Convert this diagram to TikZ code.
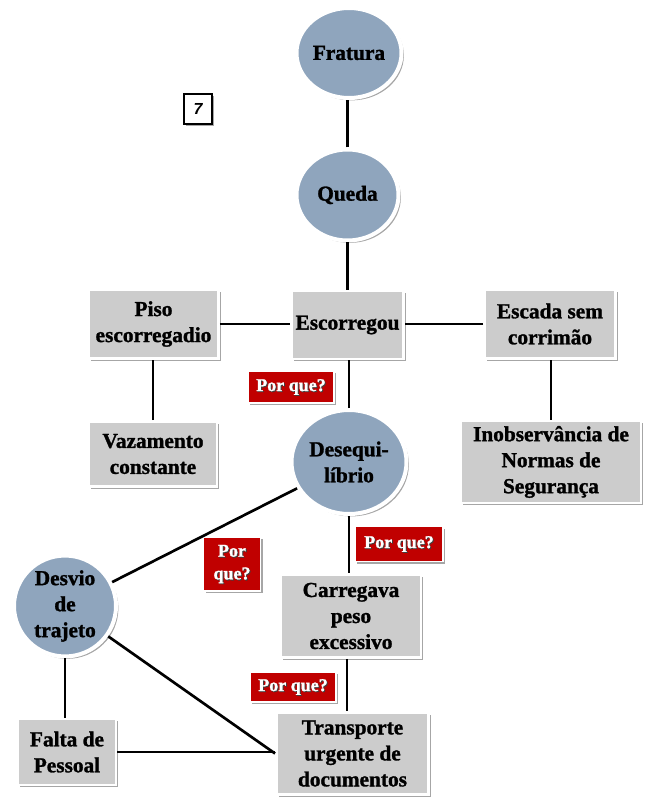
\documentclass[tikz,border=0pt]{standalone}
\usepackage{fontspec}
\setmainfont{Liberation Serif}[BoldFeatures={FakeBold=1.3}]
\newfontfamily\numfont{Liberation Sans}
\usetikzlibrary{shapes.geometric,shadows}

\definecolor{boxgray}{HTML}{CCCCCC}
\definecolor{circblue}{HTML}{8FA5BD}
\definecolor{askred}{HTML}{C00000}

\tikzset{
  softshadow/.style={drop shadow={shadow xshift=1.8pt,shadow yshift=-1.8pt,opacity=0.35,fill=black}},
  causebox/.style={rectangle,fill=boxgray,draw=white,line width=2.2pt,softshadow,
    align=center,inner sep=0pt,font=\fontsize{16}{19.5}\selectfont\bfseries},
  eventcirc/.style={ellipse,fill=circblue,draw=white,line width=3pt,softshadow,
    align=center,inner sep=0pt,font=\fontsize{16}{19.5}\selectfont\bfseries},
  askbox/.style={rectangle,fill=askred,draw=white,line width=1.2pt,softshadow,
    align=center,inner sep=0pt},
  asktext/.style={align=center,inner sep=0pt,text=white,font=\fontsize{13.5}{17}\selectfont\bfseries},
  askshade/.style={asktext,text=black!75},
  link/.style={draw=black,line width=2pt},
}

\begin{document}
\begin{tikzpicture}[x=0.75pt,y=-0.75pt]
\useasboundingbox (0,0) rectangle (651,798);

% event chain (circles)
\node[eventcirc,minimum width=78.75pt,minimum height=67.5pt] (fratura) at (349,53) {Fratura};
\node[eventcirc,minimum width=76.5pt,minimum height=68.25pt] (queda) at (347.5,195) {Queda};
\node[eventcirc,minimum width=86.25pt,minimum height=78pt] (deseq) at (349,462) {Desequi-\\líbrio};
\node[eventcirc,minimum width=76.5pt,minimum height=75pt] (desvio) at (65,606) {Desvio\\de\\trajeto};

% causes (grey boxes)
\node[causebox,minimum width=84pt,minimum height=51pt] (escorregou) at (347.5,325) {Escorregou};
\node[causebox,minimum width=97.5pt,minimum height=51.75pt] (piso) at (153.5,324) {Piso\\escorregadio};
\node[causebox,minimum width=98.25pt,minimum height=51.75pt] (escada) at (550,324) {Escada sem\\corrimão};
\node[causebox,minimum width=96pt,minimum height=48.75pt] (vazamento) at (153,454) {Vazamento\\constante};
\node[causebox,minimum width=135pt,minimum height=61.5pt] (inobs) at (551,462) {Inobservância de\\Normas de\\Segurança};
\node[causebox,minimum width=105pt,minimum height=62.25pt] (carregava) at (351,616) {Carregava\\peso\\excessivo};
\node[causebox,minimum width=114pt,minimum height=61.5pt] (transporte) at (352.5,753.5) {Transporte\\urgente de\\documentos};
\node[causebox,minimum width=73.5pt,minimum height=49.5pt] (falta) at (67,752) {Falta de\\Pessoal};

% page marker
\node[rectangle,draw=black,fill=white,line width=1.5pt,softshadow,minimum width=21pt,minimum height=22.5pt,
  inner sep=0pt,font=\numfont\bfseries\itshape\fontsize{12}{14}\selectfont] (seven) at (198,109) {7};

% "Por que?" tags: red box, dark text shade, white text
\node[askbox,minimum width=64.5pt,minimum height=24pt] (ask1) at (291,387) {};
\node[askshade] (ask1s) at ([xshift=0.7pt,yshift=-0.7pt]ask1.center) {Por que?};
\node[asktext] (ask1t) at (ask1.center) {Por que?};

\node[askbox,minimum width=66pt,minimum height=26.25pt] (ask2) at (399,544) {};
\node[askshade] (ask2s) at ([xshift=0.7pt,yshift=-0.7pt]ask2.center) {Por que?};
\node[asktext] (ask2t) at (ask2.center) {Por que?};

\node[askbox,minimum width=64.5pt,minimum height=22.5pt] (ask3) at (293,687) {};
\node[askshade] (ask3s) at ([xshift=0.7pt,yshift=-0.7pt]ask3.center) {Por que?};
\node[asktext] (ask3t) at (ask3.center) {Por que?};

\node[askbox,minimum width=42.75pt,minimum height=40.5pt] (ask4) at (232,564) {};
\node[askshade] (ask4s) at ([xshift=0.7pt,yshift=-0.7pt]ask4.center) {Por\\que?};
\node[asktext] (ask4t) at (ask4.center) {Por\\que?};

% connectors
\draw[link] (queda.north) -- (queda.north |- fratura.south);
\draw[link] (escorregou.north) -- (escorregou.north |- queda.south);
\draw[link] (piso.east) -- (piso.east -| escorregou.west);
\draw[link] (escada.west) -- (escada.west -| escorregou.east);
\draw[link] (vazamento.north) -- (vazamento.north |- piso.south);
\draw[link] (inobs.north) -- (inobs.north |- escada.south);
\draw[link] (deseq.north) -- (deseq.north |- escorregou.south);
\draw[link] (deseq.south) -- (deseq.south |- carregava.north);
\draw[link] ([xshift=-3pt]carregava.south) -- ([xshift=-3pt]carregava.south |- transporte.north);
\draw[link] (desvio) -- (deseq);
\draw[link] (desvio) -- (transporte.west);
\draw[link] (desvio.south) -- (desvio.south |- falta.north);
\draw[link] (falta.east) -- (falta.east -| transporte.west);
\end{tikzpicture}
\end{document}
